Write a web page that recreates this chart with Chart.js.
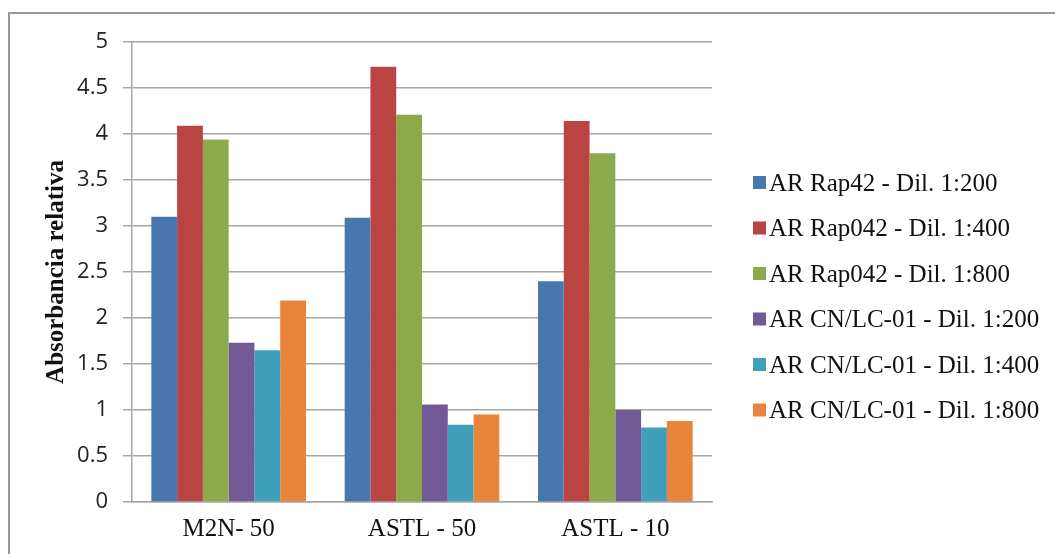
<!DOCTYPE html>
<html>
<head>
<meta charset="utf-8">
<script src="https://cdn.jsdelivr.net/npm/chart.js@4"></script>
<style>
  html, body { margin: 0; padding: 0; background: #fff; }
  canvas { display: block; }
</style>
</head>
<body>
<canvas id="myChart" width="1055" height="554"></canvas>
<script>
const categories = ['M2N- 50', 'ASTL - 50', 'ASTL - 10'];

const seriesNames = [
  'AR Rap42 - Dil. 1:200',
  'AR Rap042 - Dil. 1:400',
  'AR Rap042 - Dil. 1:800',
  'AR CN/LC-01 - Dil. 1:200',
  'AR CN/LC-01 - Dil. 1:400',
  'AR CN/LC-01 - Dil. 1:800'
];

const rap42_200 = [3.10, 3.09, 2.40];
const rap042_400 = [4.09, 4.73, 4.14];
const rap042_800 = [3.94, 4.21, 3.79];
const cnlc_200 = [1.73, 1.06, 1.00];
const cnlc_400 = [1.65, 0.84, 0.81];
const cnlc_800 = [2.19, 0.95, 0.88];

const yTicks = [0, 0.5, 1, 1.5, 2, 2.5, 3, 3.5, 4, 4.5, 5];

const colors = ['#4a76ae', '#b94442', '#8daa4b', '#725a96', '#409fbb', '#e8853b'];
const values = [rap42_200, rap042_400, rap042_800, cnlc_200, cnlc_400, cnlc_800];

const datasets = values.map((v, i) => ({
  label: seriesNames[i],
  data: v,
  backgroundColor: colors[i],
  borderWidth: 0,
  barPercentage: 1,
  categoryPercentage: 0.8
}));

// white page + grey frame on top and left
const framePlugin = {
  id: 'frame',
  beforeDraw(chart) {
    const c = chart.ctx;
    c.save();
    c.fillStyle = '#fff';
    c.fillRect(0, 0, chart.width, chart.height);
    c.strokeStyle = '#9a9a9a';
    c.lineWidth = 2;
    c.beginPath();
    c.moveTo(9, chart.height + 5);
    c.lineTo(9, 13);
    c.lineTo(chart.width + 5, 13);
    c.stroke();
    c.restore();
  }
};

// legend on the right, square swatch right next to the text
const sideLegend = {
  id: 'sideLegend',
  afterDraw(chart) {
    const c = chart.ctx;
    const x0 = chart.chartArea.right + 41;
    let y = 183;
    c.save();
    c.font = '25px "Liberation Serif", serif';
    c.textBaseline = 'middle';
    c.textAlign = 'left';
    chart.data.datasets.forEach(ds => {
      c.fillStyle = ds.backgroundColor;
      c.fillRect(x0, y - 7, 13, 13);
      c.fillStyle = '#111';
      c.fillText(ds.label, x0 + 16, y + 1);
      y += 45.5;
    });
    c.restore();
  }
};

const ctx = document.getElementById('myChart');

new Chart(ctx, {
  type: 'bar',
  data: {
    labels: categories,
    datasets: datasets
  },
  plugins: [framePlugin, sideLegend],
  options: {
    responsive: false,
    animation: false,
    devicePixelRatio: 1,
    layout: {
      padding: { left: 0, top: 42, right: 343, bottom: 0 }
    },
    plugins: {
      legend: { display: false },
      tooltip: { enabled: false }
    },
    scales: {
      x: {
        grid: { display: false, drawTicks: false },
        border: { color: '#a6a6a6', width: 1.5 },
        ticks: {
          font: { family: '"Liberation Serif", serif', size: 25 },
          color: '#111',
          padding: 12
        },
        afterFit(scale) { scale.height = 52; }
      },
      y: {
        min: 0,
        max: 5,
        afterBuildTicks(scale) {
          scale.ticks = yTicks.map(v => ({ value: v }));
        },
        ticks: {
          font: { family: '"Open Sans", sans-serif', size: 22 },
          color: '#222',
          padding: 15,
          callback: value => String(value)
        },
        grid: { color: '#a6a6a6', lineWidth: 1.5, tickLength: 9 },
        border: { color: '#a6a6a6', width: 1.5 },
        title: {
          display: true,
          text: 'Absorbancia relativa',
          font: { family: '"Liberation Serif", serif', size: 25, weight: 'bold' },
          color: '#111',
          padding: { top: 42, bottom: 0 }
        },
        afterFit(scale) { scale.width = 132; }
      }
    }
  }
});
</script>
</body>
</html>
